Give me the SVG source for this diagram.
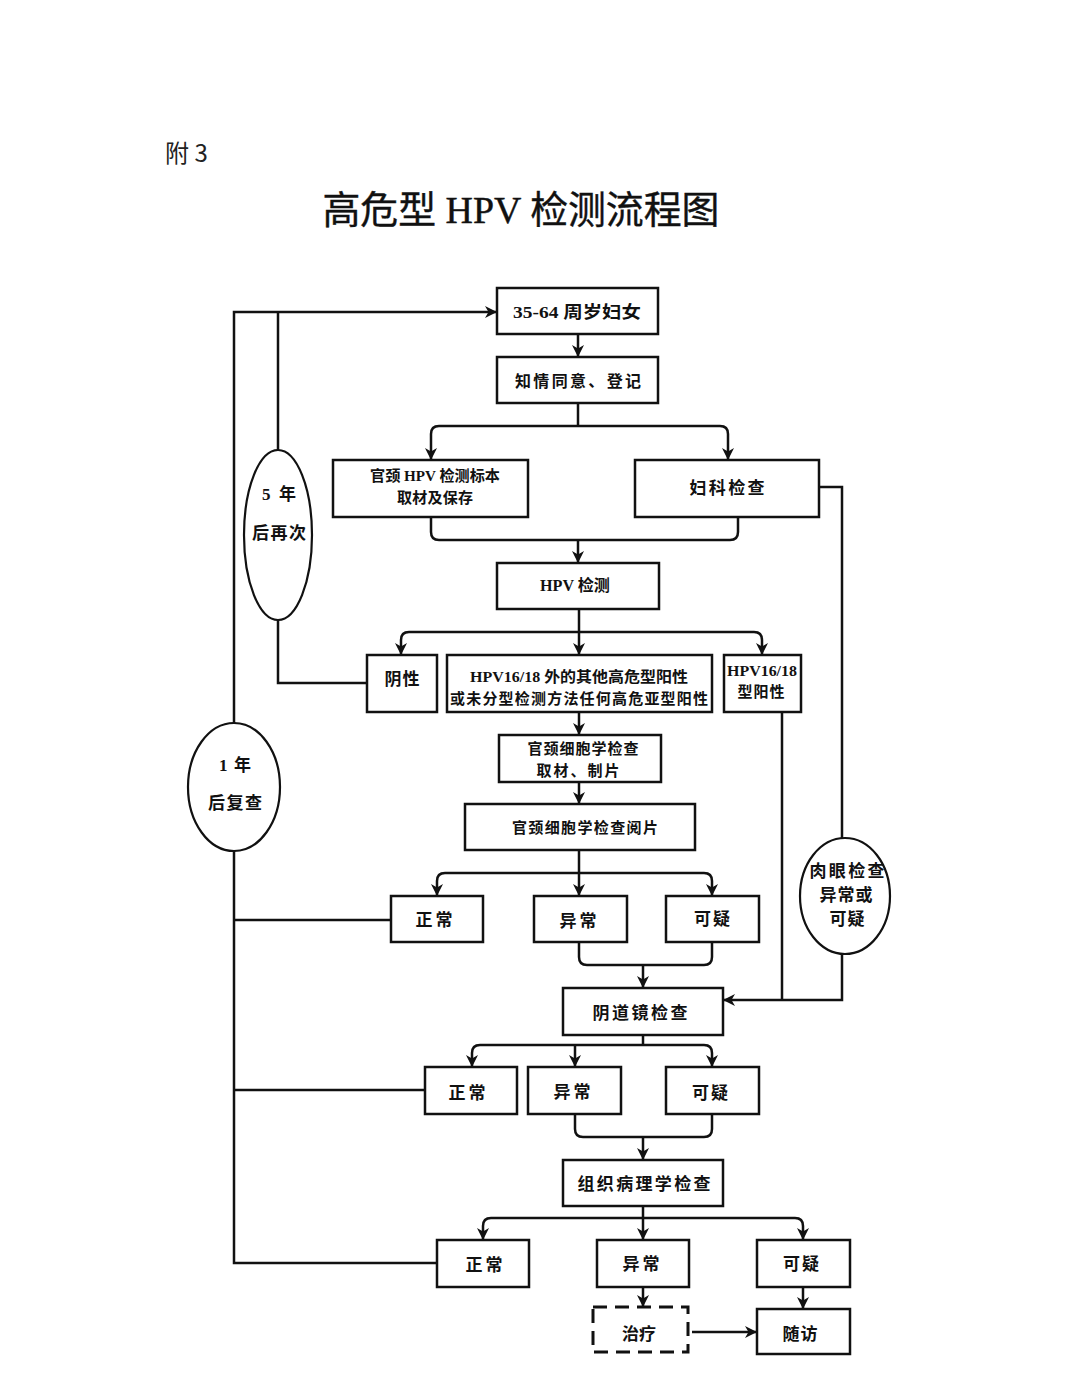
<svg xmlns="http://www.w3.org/2000/svg" width="1080" height="1383" viewBox="0 0 1080 1383">
<defs>
<marker id="ah" viewBox="0 0 12 12" refX="12" refY="6" markerWidth="12" markerHeight="12" markerUnits="userSpaceOnUse" orient="auto">
<path d="M0,0 L12,6 L0,12 L3.5,6 Z" fill="#111"/>
</marker>
<style>
.b{fill:#fff;stroke:#111;stroke-width:2.5}
.e{fill:#fff;stroke:#111;stroke-width:2.2}
.c{fill:none;stroke:#111;stroke-width:2.5}
.a{marker-end:url(#ah)}
.t{font-family:"Liberation Serif","Noto Sans CJK SC",serif;font-weight:bold;fill:#111;text-anchor:middle;dominant-baseline:central;font-size:16px}
.s{font-size:15px}
.m{font-size:17px}
</style>
</defs>
<rect width="1080" height="1383" fill="#fff"/>
<text x="165" y="151" style="font-family:'Noto Sans CJK SC','Liberation Sans',sans-serif;font-size:24px;fill:#222;dominant-baseline:central">附 3</text>
<text x="521" y="210" textLength="397" lengthAdjust="spacingAndGlyphs" style="font-family:'Liberation Serif','Noto Sans CJK SC',serif;font-size:38px;fill:#111;text-anchor:middle;dominant-baseline:central;stroke:#111;stroke-width:0.4">高危型 HPV 检测流程图</text>

<g id="connectors">
<path class="c a" d="M437,1263 H234 V312 H497"/>
<path class="c" d="M391,920 H234"/>
<path class="c" d="M425,1090 H234"/>
<path class="c" d="M278,450 V312"/>
<path class="c" d="M367,683 H278 V620"/>
<path class="c a" d="M578,334 V357"/>
<path class="c" d="M578,403 V426"/>
<path class="c a" d="M578,426 H439 Q431,426 431,434 V460"/>
<path class="c a" d="M578,426 H720 Q728,426 728,434 V460"/>
<path class="c" d="M431,518 V532 Q431,540 439,540 H730 Q738,540 738,532 V518"/>
<path class="c a" d="M578,540 V563"/>
<path class="c" d="M579,609 V632"/>
<path class="c a" d="M579,632 H409 Q401,632 401,640 V655"/>
<path class="c a" d="M579,632 H754 Q762,632 762,640 V655"/>
<path class="c a" d="M579,632 V655"/>
<path class="c a" d="M579,712 V735"/>
<path class="c a" d="M579,782 V804"/>
<path class="c" d="M579,850 V873"/>
<path class="c a" d="M579,873 H445 Q437,873 437,881 V896"/>
<path class="c a" d="M579,873 H704 Q712,873 712,881 V896"/>
<path class="c a" d="M579,873 V896"/>
<path class="c" d="M579,942 V957 Q579,965 587,965 H704 Q712,965 712,957 V942"/>
<path class="c a" d="M643,965 V988"/>
<path class="c" d="M782,712 V1000"/>
<path class="c" d="M819,487 H842 V838"/>
<path class="c a" d="M842,953 V1000 H723"/>
<path class="c" d="M643,1035 V1045"/>
<path class="c a" d="M643,1045 H480 Q472,1045 472,1053 V1067"/>
<path class="c a" d="M643,1045 H704 Q712,1045 712,1053 V1067"/>
<path class="c a" d="M575,1045 V1067"/>
<path class="c" d="M575,1114 V1129 Q575,1137 583,1137 H704 Q712,1137 712,1129 V1114"/>
<path class="c a" d="M643,1137 V1160"/>
<path class="c" d="M643,1206 V1218"/>
<path class="c a" d="M643,1218 H491 Q483,1218 483,1226 V1240"/>
<path class="c a" d="M643,1218 H795 Q803,1218 803,1226 V1240"/>
<path class="c a" d="M643,1218 V1240"/>
<path class="c a" d="M643,1287 V1307"/>
<path class="c a" d="M803,1287 V1309"/>
<path class="c a" d="M692,1332 H757"/>
</g>

<g id="n-women"><rect class="b" x="497" y="288" width="161" height="46"/><text class="t m" x="577" y="312" textLength="128" lengthAdjust="spacingAndGlyphs">35-64 周岁妇女</text></g>
<g id="n-consent"><rect class="b" x="497" y="357" width="161" height="46"/><text class="t" x="578" y="381" textLength="126">知情同意、登记</text></g>
<g id="n-sample"><rect class="b" x="333" y="460" width="195" height="57"/><text class="t s" x="435" y="476" textLength="130" lengthAdjust="spacingAndGlyphs">官颈 HPV 检测标本</text><text class="t s" x="435" y="498" textLength="76">取材及保存</text></g>
<g id="n-gyn"><rect class="b" x="635" y="460" width="184" height="57"/><text class="t m" x="727" y="488" textLength="75">妇科检查</text></g>
<g id="n-hpv"><rect class="b" x="497" y="563" width="162" height="46"/><text class="t" x="575" y="585" textLength="70" lengthAdjust="spacingAndGlyphs">HPV 检测</text></g>
<g id="n-neg"><rect class="b" x="367" y="655" width="70" height="57"/><text class="t m" x="402" y="679" textLength="35">阴性</text></g>
<g id="n-other"><rect class="b" x="447" y="655" width="265" height="57"/><text class="t s" x="579" y="677" textLength="218" lengthAdjust="spacingAndGlyphs">HPV16/18 外的其他高危型阳性</text><text class="t s" x="579" y="699" textLength="258">或未分型检测方法任何高危亚型阳性</text></g>
<g id="n-1618"><rect class="b" x="724" y="655" width="77" height="57"/><text class="t s" x="762" y="671" textLength="70" lengthAdjust="spacingAndGlyphs">HPV16/18</text><text class="t s" x="761" y="692" textLength="47">型阳性</text></g>
<g id="n-cyto1"><rect class="b" x="499" y="735" width="162" height="47"/><text class="t s" x="583" y="749" textLength="111">官颈细胞学检查</text><text class="t s" x="578" y="771" textLength="83">取材、制片</text></g>
<g id="n-cyto2"><rect class="b" x="465" y="804" width="230" height="46"/><text class="t s" x="585" y="828" textLength="146">官颈细胞学检查阅片</text></g>
<g id="n-c-normal"><rect class="b" x="391" y="896" width="92" height="46"/><text class="t m" x="434" y="920" textLength="37">正常</text></g>
<g id="n-c-abn"><rect class="b" x="534" y="896" width="93" height="46"/><text class="t m" x="578" y="921" textLength="37">异常</text></g>
<g id="n-c-susp"><rect class="b" x="666" y="896" width="93" height="46"/><text class="t m" x="712" y="919" textLength="36">可疑</text></g>
<g id="n-colpo"><rect class="b" x="563" y="988" width="160" height="47"/><text class="t m" x="640" y="1013" textLength="95">阴道镜检查</text></g>
<g id="n-p-normal"><rect class="b" x="425" y="1067" width="92" height="47"/><text class="t m" x="467" y="1093" textLength="37">正常</text></g>
<g id="n-p-abn"><rect class="b" x="528" y="1067" width="93" height="47"/><text class="t m" x="572" y="1092" textLength="37">异常</text></g>
<g id="n-p-susp"><rect class="b" x="666" y="1067" width="93" height="47"/><text class="t m" x="710" y="1093" textLength="36">可疑</text></g>
<g id="n-histo"><rect class="b" x="563" y="1160" width="160" height="46"/><text class="t m" x="644" y="1184" textLength="133">组织病理学检查</text></g>
<g id="n-h-normal"><rect class="b" x="437" y="1240" width="92" height="47"/><text class="t m" x="484" y="1265" textLength="37">正常</text></g>
<g id="n-h-abn"><rect class="b" x="597" y="1240" width="92" height="47"/><text class="t m" x="641" y="1264" textLength="37">异常</text></g>
<g id="n-h-susp"><rect class="b" x="757" y="1240" width="93" height="47"/><text class="t m" x="801" y="1264" textLength="36">可疑</text></g>
<g id="n-treat"><rect x="593" y="1307" width="95" height="45" fill="#fff" stroke="#111" stroke-width="3" stroke-dasharray="14,8"/><text class="t m" x="639" y="1334" textLength="34">治疗</text></g>
<g id="n-follow"><rect class="b" x="757" y="1309" width="93" height="45"/><text class="t m" x="800" y="1334" textLength="35">随访</text></g>
<g id="n-5y"><ellipse class="e" cx="278" cy="535" rx="34" ry="85"/><text class="t m" x="279" y="494" textLength="34">5 年</text><text class="t m" x="279" y="533" textLength="54">后再次</text></g>
<g id="n-1y"><ellipse class="e" cx="234" cy="787" rx="46" ry="64"/><text class="t m" x="235" y="765" textLength="32">1 年</text><text class="t m" x="235" y="803" textLength="54">后复查</text></g>
<g id="n-eye"><ellipse class="e" cx="845" cy="896" rx="45" ry="58"/><text class="t m" x="847" y="871" textLength="75">肉眼检查</text><text class="t m" x="846" y="895" textLength="53">异常或</text><text class="t m" x="847" y="919" textLength="35">可疑</text></g>
</svg>
